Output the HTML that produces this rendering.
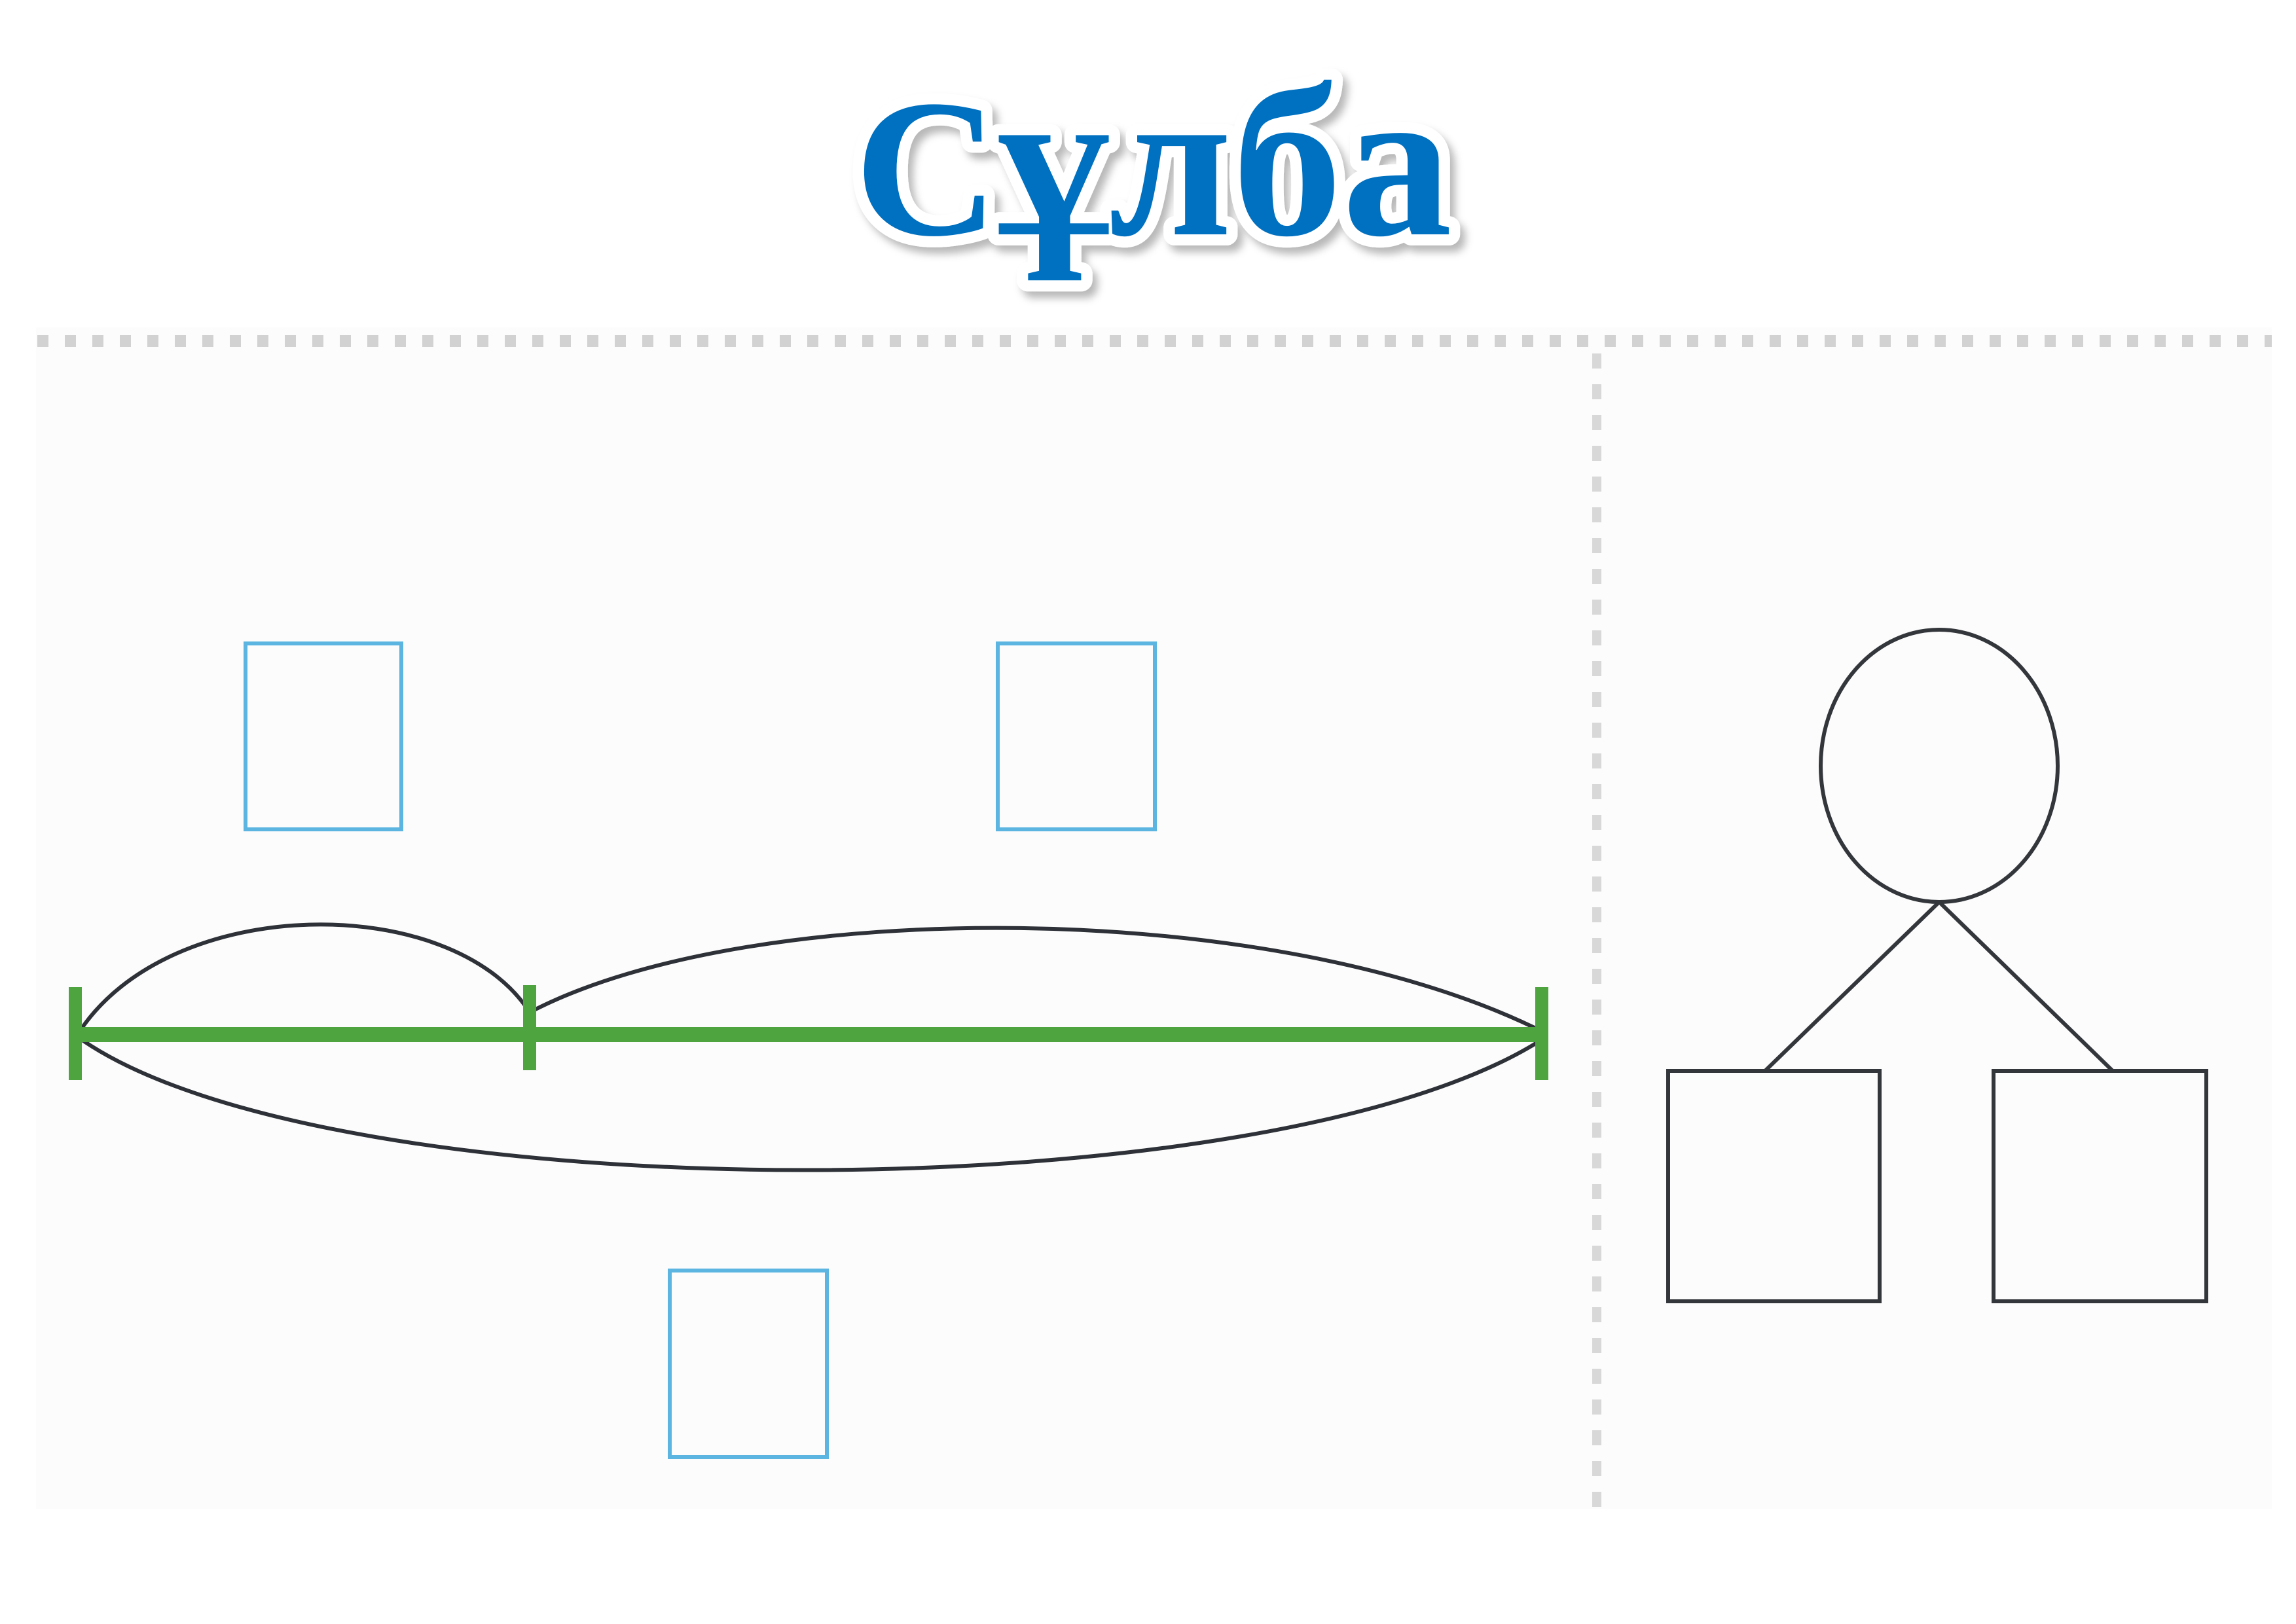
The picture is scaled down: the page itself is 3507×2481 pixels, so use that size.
<!DOCTYPE html>
<html><head><meta charset="utf-8"><style>
html,body{margin:0;padding:0;background:#fff;}
svg{display:block;}
</style></head><body>
<svg width="3507" height="2481" viewBox="0 0 3507 2481" xmlns="http://www.w3.org/2000/svg">
<defs>
<filter id="sh" x="-10%" y="-20%" width="120%" height="150%">
<feDropShadow dx="8" dy="10" stdDeviation="6" flood-color="#000" flood-opacity="0.28"/>
</filter>
</defs>
<rect x="0" y="0" width="3507" height="2481" fill="#fff"/>
<rect x="55" y="500" width="3415" height="1805" fill="#fcfcfc"/>
<text x="1305" y="358" textLength="913" lengthAdjust="spacingAndGlyphs" font-family="Liberation Serif, serif" font-weight="bold" font-size="300" fill="#0070c0" stroke="#fff" stroke-width="34" stroke-linejoin="round" paint-order="stroke" filter="url(#sh)">С<tspan font-size="330">ұлба</tspan></text>
<line x1="57" y1="521" x2="3470" y2="521" stroke="#d2d2d2" stroke-width="18" stroke-dasharray="17 25"/>
<line x1="2439" y1="540" x2="2439" y2="2304" stroke="#d8d8d8" stroke-width="14" stroke-dasharray="23 24"/>
<g fill="none" stroke="#5bb5e0" stroke-width="6">
<rect x="375" y="983" width="238" height="284"/>
<rect x="1524" y="983" width="240" height="284"/>
<rect x="1023" y="1941" width="240" height="285"/>
</g>
<g fill="none" stroke="#2e3238" stroke-width="6">
<path d="M120,1578 C260,1363 690,1363 808,1545"/>
<path d="M812,1545 C1150,1370 1950,1370 2360,1578"/>
<path d="M120,1585 C500,1855 1950,1855 2360,1585"/>
</g>
<g fill="#4ea53f">
<rect x="115" y="1569" width="2245" height="23"/>
<rect x="105" y="1508" width="20" height="142"/>
<rect x="799" y="1505" width="20" height="130"/>
<rect x="2345" y="1508" width="20" height="142"/>
</g>
<g fill="none" stroke="#33363b" stroke-width="6">
<ellipse cx="2962" cy="1170" rx="181" ry="208"/>
<line x1="2962" y1="1378" x2="2696" y2="1636"/>
<line x1="2962" y1="1378" x2="3227" y2="1636"/>
<rect x="2548" y="1636" width="323" height="352"/>
<rect x="3045" y="1636" width="325" height="352"/>
</g>
</svg>
</body></html>
